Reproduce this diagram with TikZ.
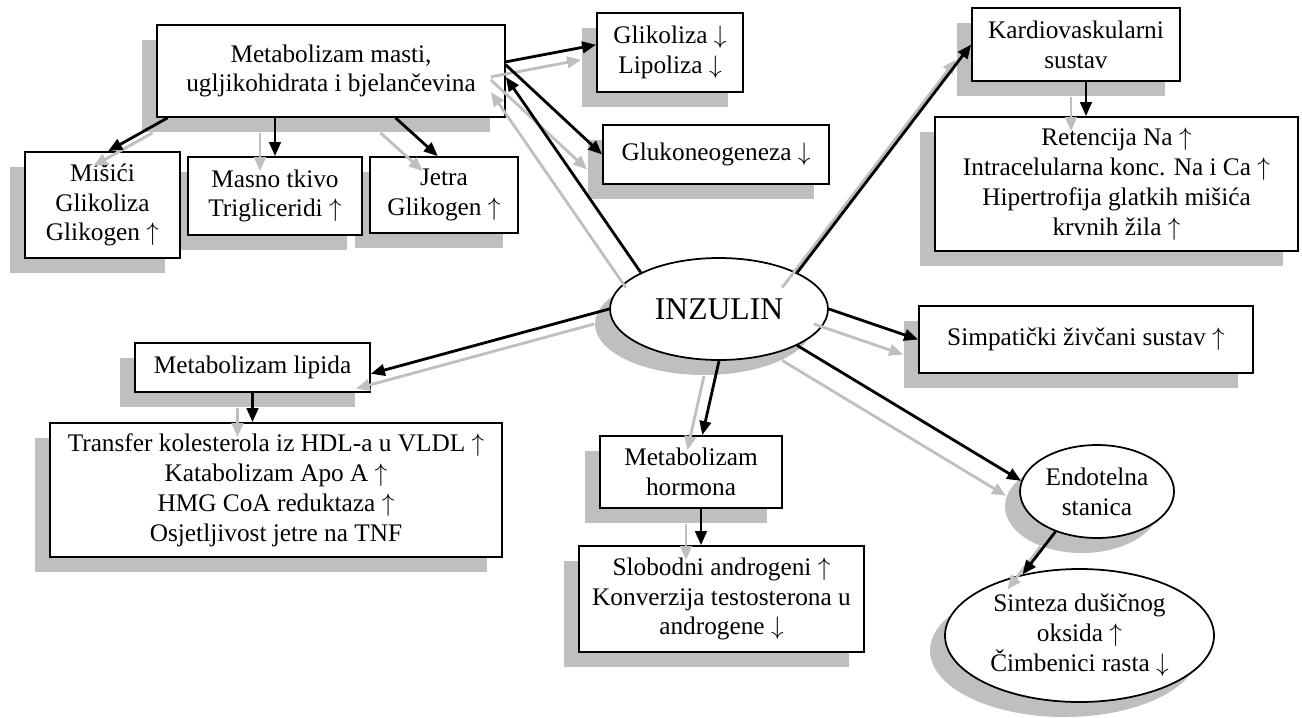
\documentclass[tikz,border=0pt]{standalone}
\usepackage{fontspec}
\setmainfont{Liberation Serif}
\usetikzlibrary{arrows.meta, shapes.geometric, shadows}
\definecolor{shadowgray}{RGB}{191,191,191}
\newcommand{\arrup}{$\uparrow$}
\newcommand{\arrdown}{$\downarrow$}

\tikzset{
  box/.style={draw, line width=1pt, fill=white, align=center, inner sep=0pt,
    font=\fontsize{14.4}{17}\selectfont,
    drop shadow={shadow xshift=-0.3cm, shadow yshift=-0.3cm, opacity=1, fill=shadowgray}},
  oval/.style={box, ellipse},
  link/.style={-{Triangle[length=0.28cm, width=0.23cm]}, line width=1.6pt,
    preaction={draw=shadowgray, line width=1.6pt, -{Triangle[length=0.28cm, width=0.23cm]},
      transform canvas={shift={(-0.3,-0.3)}}}},
}

\begin{document}
\begin{tikzpicture}
  \useasboundingbox (0,0) rectangle (26.04,-14.34);

  \node[box, minimum width=6.96cm, minimum height=1.84cm] (meta) at (6.62,-1.42)
    {Metabolizam masti,\\ugljikohidrata i bjelančevina};
  \node[box, minimum width=2.96cm, minimum height=1.52cm] (jetra) at (8.88,-3.90)
    {Jetra\\Glikogen \arrup};
  \node[box, minimum width=3.48cm, minimum height=1.56cm] (masno) at (5.50,-3.92)
    {Masno tkivo\\Trigliceridi \arrup};
  \node[box, minimum width=3.10cm, minimum height=2.12cm] (misici) at (2.05,-4.10)
    {Mišići\\Glikoliza\\Glikogen \arrup};
  \node[box, minimum width=2.92cm, minimum height=1.58cm] (glik) at (13.40,-1.05)
    {Glikoliza \arrdown\\Lipoliza \arrdown};
  \node[box, minimum width=4.52cm, minimum height=1.18cm] (gluko) at (14.32,-3.09)
    {Glukoneogeneza \arrdown};

  \node[box, minimum width=4.16cm, minimum height=1.46cm] (kardio) at (21.52,-0.89)
    {Kardiovaskularni\\sustav};
  \node[box, minimum width=7.26cm, minimum height=2.68cm] (retencija) at (22.33,-3.68)
    {Retencija Na \arrup\\Intracelularna konc. Na i Ca \arrup\\Hipertrofija glatkih mišića\\krvnih žila \arrup};

  \node[oval, minimum width=4.36cm, minimum height=2.04cm,
    font=\fontsize{18}{21}\selectfont] (inzulin) at (14.38,-6.18) {INZULIN};

  \node[box, minimum width=6.68cm, minimum height=1.34cm] (simp) at (21.72,-6.79)
    {Simpatički živčani sustav \arrup};
  \node[box, minimum width=4.70cm, minimum height=0.98cm] (lipidi) at (5.05,-7.35)
    {Metabolizam lipida};
  \node[box, minimum width=9.04cm, minimum height=2.68cm] (transfer) at (5.52,-9.80)
    {Transfer kolesterola iz HDL-a u VLDL \arrup\\Katabolizam Apo A \arrup\\HMG CoA reduktaza \arrup\\Osjetljivost jetre na TNF};
  \node[box, minimum width=3.64cm, minimum height=1.44cm] (hormoni) at (13.82,-9.44)
    {Metabolizam\\hormona};
  \node[box, minimum width=5.70cm, minimum height=2.12cm] (androgeni) at (14.43,-11.98)
    {Slobodni androgeni \arrup\\Konverzija testosterona u\\androgene \arrdown};
  \node[oval, minimum width=3.08cm, minimum height=1.86cm] (endotel) at (21.94,-9.83)
    {Endotelna\\stanica};
  \node[oval, minimum width=5.38cm, minimum height=2.66cm] (sinteza) at (21.59,-12.71)
    {Sinteza dušičnog\\oksida \arrup\\Čimbenici rasta \arrdown};

  \coordinate (kardiodown) at ([xshift=0.2cm]kardio.south);
  \coordinate (hormonidown) at ([xshift=0.2cm]hormoni.south);

  \draw[link] (meta.196) -- (misici.84);
  \draw[link] (meta.south -| masno.north) -- (masno.north);
  \draw[link] (meta.-36) -- (jetra.99);
  \draw[link] (meta.3) -- (glik.174);
  \draw[link] (meta.2) -- (gluko.west);
  \draw[link] (inzulin.155) -- (meta.-2);
  \draw[link] (inzulin.25) -- (kardio.west);
  \draw[link] (kardiodown) -- (kardiodown |- retencija.north);
  \draw[link] (inzulin.west) -- (lipidi.-3);
  \draw[link] (lipidi.south) -- (lipidi.south |- transfer.north);
  \draw[link] (inzulin.east) -- (simp.west);
  \draw[link] (inzulin.south) -- (hormoni.73);
  \draw[link] (hormonidown) -- (hormonidown |- androgeni.north);
  \draw[link] (inzulin.-25) -- (endotel.172);
  \draw[link] (endotel.224) -- (sinteza.133);
\end{tikzpicture}
\end{document}
